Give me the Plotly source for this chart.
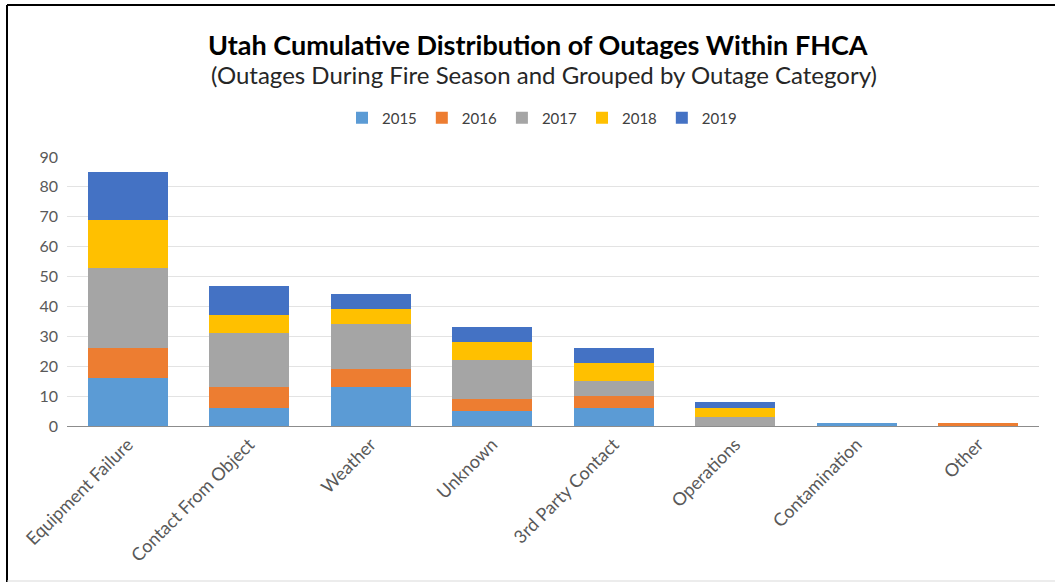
import plotly.graph_objects as go

categories = ["Equipment Failure", "Contact From Object", "Weather", "Unknown",
              "3rd Party Contact", "Operations", "Contamination", "Other"]
years = ["2015", "2016", "2017", "2018", "2019"]
v2015 = [16, 6, 13, 5, 6, 0, 1, 0]
v2016 = [10, 7, 6, 4, 4, 0, 0, 1]
v2017 = [27, 18, 15, 13, 5, 3, 0, 0]
v2018 = [16, 6, 5, 6, 6, 3, 0, 0]
v2019 = [16, 10, 5, 5, 5, 2, 0, 0]
colors = ["#5B9BD5", "#ED7D31", "#A5A5A5", "#FFC000", "#4472C4"]

W, H = 1055, 582
L, R, T, B = 67, 16, 157, 156
pw, ph = W - L - R, H - T - B

def px(x):
    return (x - L) / pw

def py(y):
    return (H - B - y) / ph

fig = go.Figure()
for name, vals, col in zip(years, [v2015, v2016, v2017, v2018, v2019], colors):
    fig.add_trace(go.Bar(name=name, x=categories, y=vals, marker_color=col,
                         marker_line_width=0))

font_family = "Lato, 'Open Sans', sans-serif"
fig.update_layout(
    barmode="stack",
    bargap=0.34,
    width=W, height=H,
    margin=dict(l=L, r=R, t=T, b=B),
    paper_bgcolor="white", plot_bgcolor="white",
    font=dict(family=font_family, color="#595959", size=15),
    showlegend=True,
    legend=dict(orientation="h", x=px(542), xanchor="center", y=py(118), yanchor="middle",
                font=dict(size=15, color="#404040"), traceorder="normal",
                itemwidth=30, itemsizing="constant"),
    xaxis=dict(tickangle=-45, showline=True, linecolor="#8c8c8c", linewidth=1,
               tickfont=dict(size=18, color="#595959"), ticks=""),
    yaxis=dict(range=[0, 90], dtick=10, showgrid=True, gridcolor="#e3e3e3",
               zeroline=False, tickfont=dict(size=16, color="#595959"), ticks="",
               ticklabelstandoff=8),
    annotations=[
        dict(text="<b>Utah Cumulative Distribution of Outages Within FHCA</b>",
             xref="paper", yref="paper", x=px(538), y=py(44), xanchor="center",
             yanchor="middle", showarrow=False,
             font=dict(size=27, color="#000000", family=font_family)),
        dict(text="(Outages During Fire Season and Grouped by Outage Category)",
             xref="paper", yref="paper", x=px(544), y=py(75), xanchor="center",
             yanchor="middle", showarrow=False,
             font=dict(size=24, color="#262626", family=font_family)),
    ],
    shapes=[
        dict(type="line", xref="paper", yref="paper", x0=px(7), x1=px(W), y0=py(5), y1=py(5),
             line=dict(color="#000000", width=2)),
        dict(type="line", xref="paper", yref="paper", x0=px(7), x1=px(7), y0=py(5), y1=py(H),
             line=dict(color="#000000", width=2)),
        dict(type="line", xref="paper", yref="paper", x0=px(7), x1=px(W), y0=py(581), y1=py(581),
             line=dict(color="#d9d9d9", width=1)),
    ],
)

fig.write_html("out.html", config={"displayModeBar": False},
               post_script="document.body.style.margin='0';")
